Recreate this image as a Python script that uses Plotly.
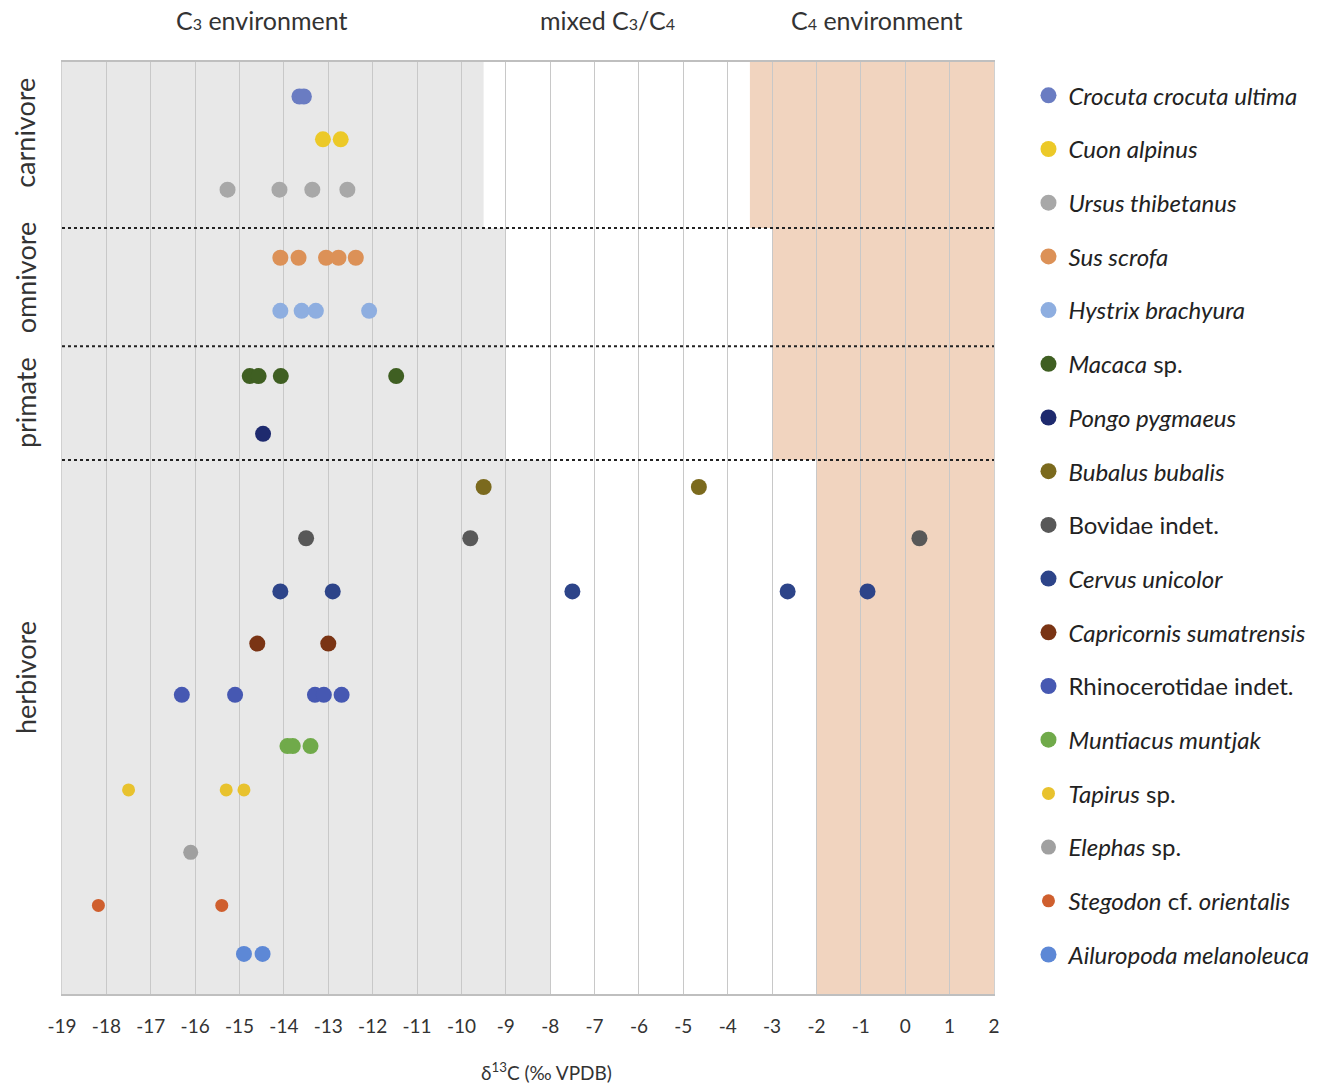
import plotly.graph_objects as go

# ---------------- data ----------------
species = [
    "<i>Crocuta crocuta ultima</i>", "<i>Cuon alpinus</i>", "<i>Ursus thibetanus</i>",
    "<i>Sus scrofa</i>", "<i>Hystrix brachyura</i>",
    "<i>Macaca</i> sp.", "<i>Pongo pygmaeus</i>",
    "<i>Bubalus bubalis</i>", "Bovidae indet.", "<i>Cervus unicolor</i>",
    "<i>Capricornis sumatrensis</i>", "Rhinocerotidae indet.", "<i>Muntiacus muntjak</i>",
    "<i>Tapirus</i> sp.", "<i>Elephas</i> sp.", "<i>Stegodon</i> cf. <i>orientalis</i>",
    "<i>Ailuropoda melanoleuca</i>",
]
# row level of each species on the (hidden) vertical scale
row_level = [96.3, 91.7, 86.3, 79.0, 73.3, 66.3, 60.1, 54.4, 48.9, 43.2,
             37.6, 32.1, 26.6, 21.9, 15.2, 9.5, 4.3]
d13c = [
    [-13.65, -13.55],
    [-13.12, -12.72],
    [-15.27, -14.1, -13.36, -12.57],
    [-14.08, -13.67, -13.05, -12.77, -12.38],
    [-14.08, -13.6, -13.28, -12.08],
    [-14.77, -14.57, -14.07, -11.47],
    [-14.47],
    [-9.5, -4.65],
    [-13.5, -9.8, 0.32],
    [-14.08, -12.9, -7.5, -2.65, -0.85],
    [-14.6, -13.0],
    [-16.3, -15.1, -13.3, -13.1, -12.7],
    [-13.92, -13.8, -13.4],
    [-17.5, -15.3, -14.9],
    [-16.1],
    [-18.18, -15.4],
    [-14.9, -14.48],
]
colors = ["#6a7cc2", "#ecc928", "#a8a8a8", "#dc9157", "#8eaee0", "#3f5f22", "#1e2a6e",
          "#7b6a1e", "#585858", "#2d4489", "#7a3414", "#4658b2", "#70aa4a", "#e8c22e",
          "#a0a0a0", "#cf5f2e", "#5d88d6"]
marker_size = [16, 16, 16, 16, 16, 16, 16, 16, 16, 16, 16, 16, 16, 13, 15, 13, 16]

# diet groups: name, band top, band bottom, label level on the vertical scale
groups = ["carnivore", "omnivore", "primate", "herbivore"]
group_top = [100, 82.2, 69.5, 57.3]
group_bottom = [82.2, 69.5, 57.3, 0]
group_label_level = [92.4, 76.8, 63.4, 33.9]
# C3 limit and C4 limit per group
c3_limit = [-9.5, -9.0, -9.0, -8.0]
c4_limit = [-3.5, -3.0, -3.0, -2.0]
env_labels = ["C<span style='font-size:16px'>3</span> environment",
              "mixed C<span style='font-size:16px'>3</span>/C<span style='font-size:16px'>4</span>",
              "C<span style='font-size:16px'>4</span> environment"]
env_label_x = [-14.5, -6.7, -0.65]
x_ticks = list(range(-19, 3))
x_min, x_max = -19, 2

FONT = "Lato, 'Open Sans', sans-serif"

fig = go.Figure()

for name, lvl, xs, col, sz in zip(species, row_level, d13c, colors, marker_size):
    fig.add_trace(go.Scatter(
        x=xs, y=[lvl] * len(xs), mode="markers", name=name, legendgroup=name,
        marker=dict(color=col, size=sz, line=dict(width=0)),
    ))

shapes = []
for top, bot, c3, c4 in zip(group_top, group_bottom, c3_limit, c4_limit):
    shapes.append(dict(type="rect", xref="x", yref="y", x0=x_min, x1=c3, y0=bot, y1=top,
                       fillcolor="#e8e8e8", line=dict(width=0), layer="below"))
    shapes.append(dict(type="rect", xref="x", yref="y", x0=c4, x1=x_max, y0=bot, y1=top,
                       fillcolor="#f1d4bf", line=dict(width=0), layer="below"))
for bot in group_bottom[:-1]:
    shapes.append(dict(type="line", xref="x", yref="y", x0=x_min, x1=x_max, y0=bot, y1=bot,
                       line=dict(color="#222222", width=2, dash="dot"), layer="above"))

annotations = []
for lab, xv in zip(env_labels, env_label_x):
    annotations.append(dict(text=lab, x=xv, xref="x", y=1.0, yref="paper", yshift=42,
                            xanchor="center", yanchor="middle",
                            showarrow=False, font=dict(size=25, color="#333333", family=FONT)))
for g, lvl in zip(groups, group_label_level):
    annotations.append(dict(text=g, x=0, xref="paper", xshift=-37, y=lvl, yref="y",
                            xanchor="center", yanchor="middle",
                            textangle=-90, showarrow=False,
                            font=dict(size=27, color="#333333", family=FONT)))
annotations.append(dict(text="δ<sup>13</sup>C (‰ VPDB)", x=-8.08, xref="x", y=0, yref="paper",
                        yshift=-77, xanchor="center", yanchor="middle", showarrow=False,
                        font=dict(size=19, color="#333333", family=FONT)))

fig.update_layout(
    width=1320, height=1075,
    margin=dict(l=54, r=331, t=54, b=89),
    plot_bgcolor="white", paper_bgcolor="white",
    font=dict(family=FONT, color="#333333"),
    shapes=shapes, annotations=annotations,
    showlegend=True,
    legend=dict(x=1.037, xanchor="left", y=0.988, yanchor="top",
                font=dict(size=24, color="#222222", family=FONT),
                tracegroupgap=19.5, bgcolor="rgba(0,0,0,0)"),
    xaxis=dict(range=[x_min, x_max], tickvals=x_ticks, ticktext=[str(t) for t in x_ticks],
               showgrid=True, gridcolor="#c8c8c8", gridwidth=1, zeroline=False,
               showline=True, linecolor="#bfbfbf", linewidth=2, mirror=True,
               ticks="", tickfont=dict(size=19, color="#333333", family=FONT),
               ticklabelstandoff=14),
    yaxis=dict(range=[0, 100], showticklabels=False, showgrid=False, zeroline=False,
               showline=True, linecolor="#d0d0d0", linewidth=1, mirror=True, ticks=""),
)

fig.write_html("out.html")
